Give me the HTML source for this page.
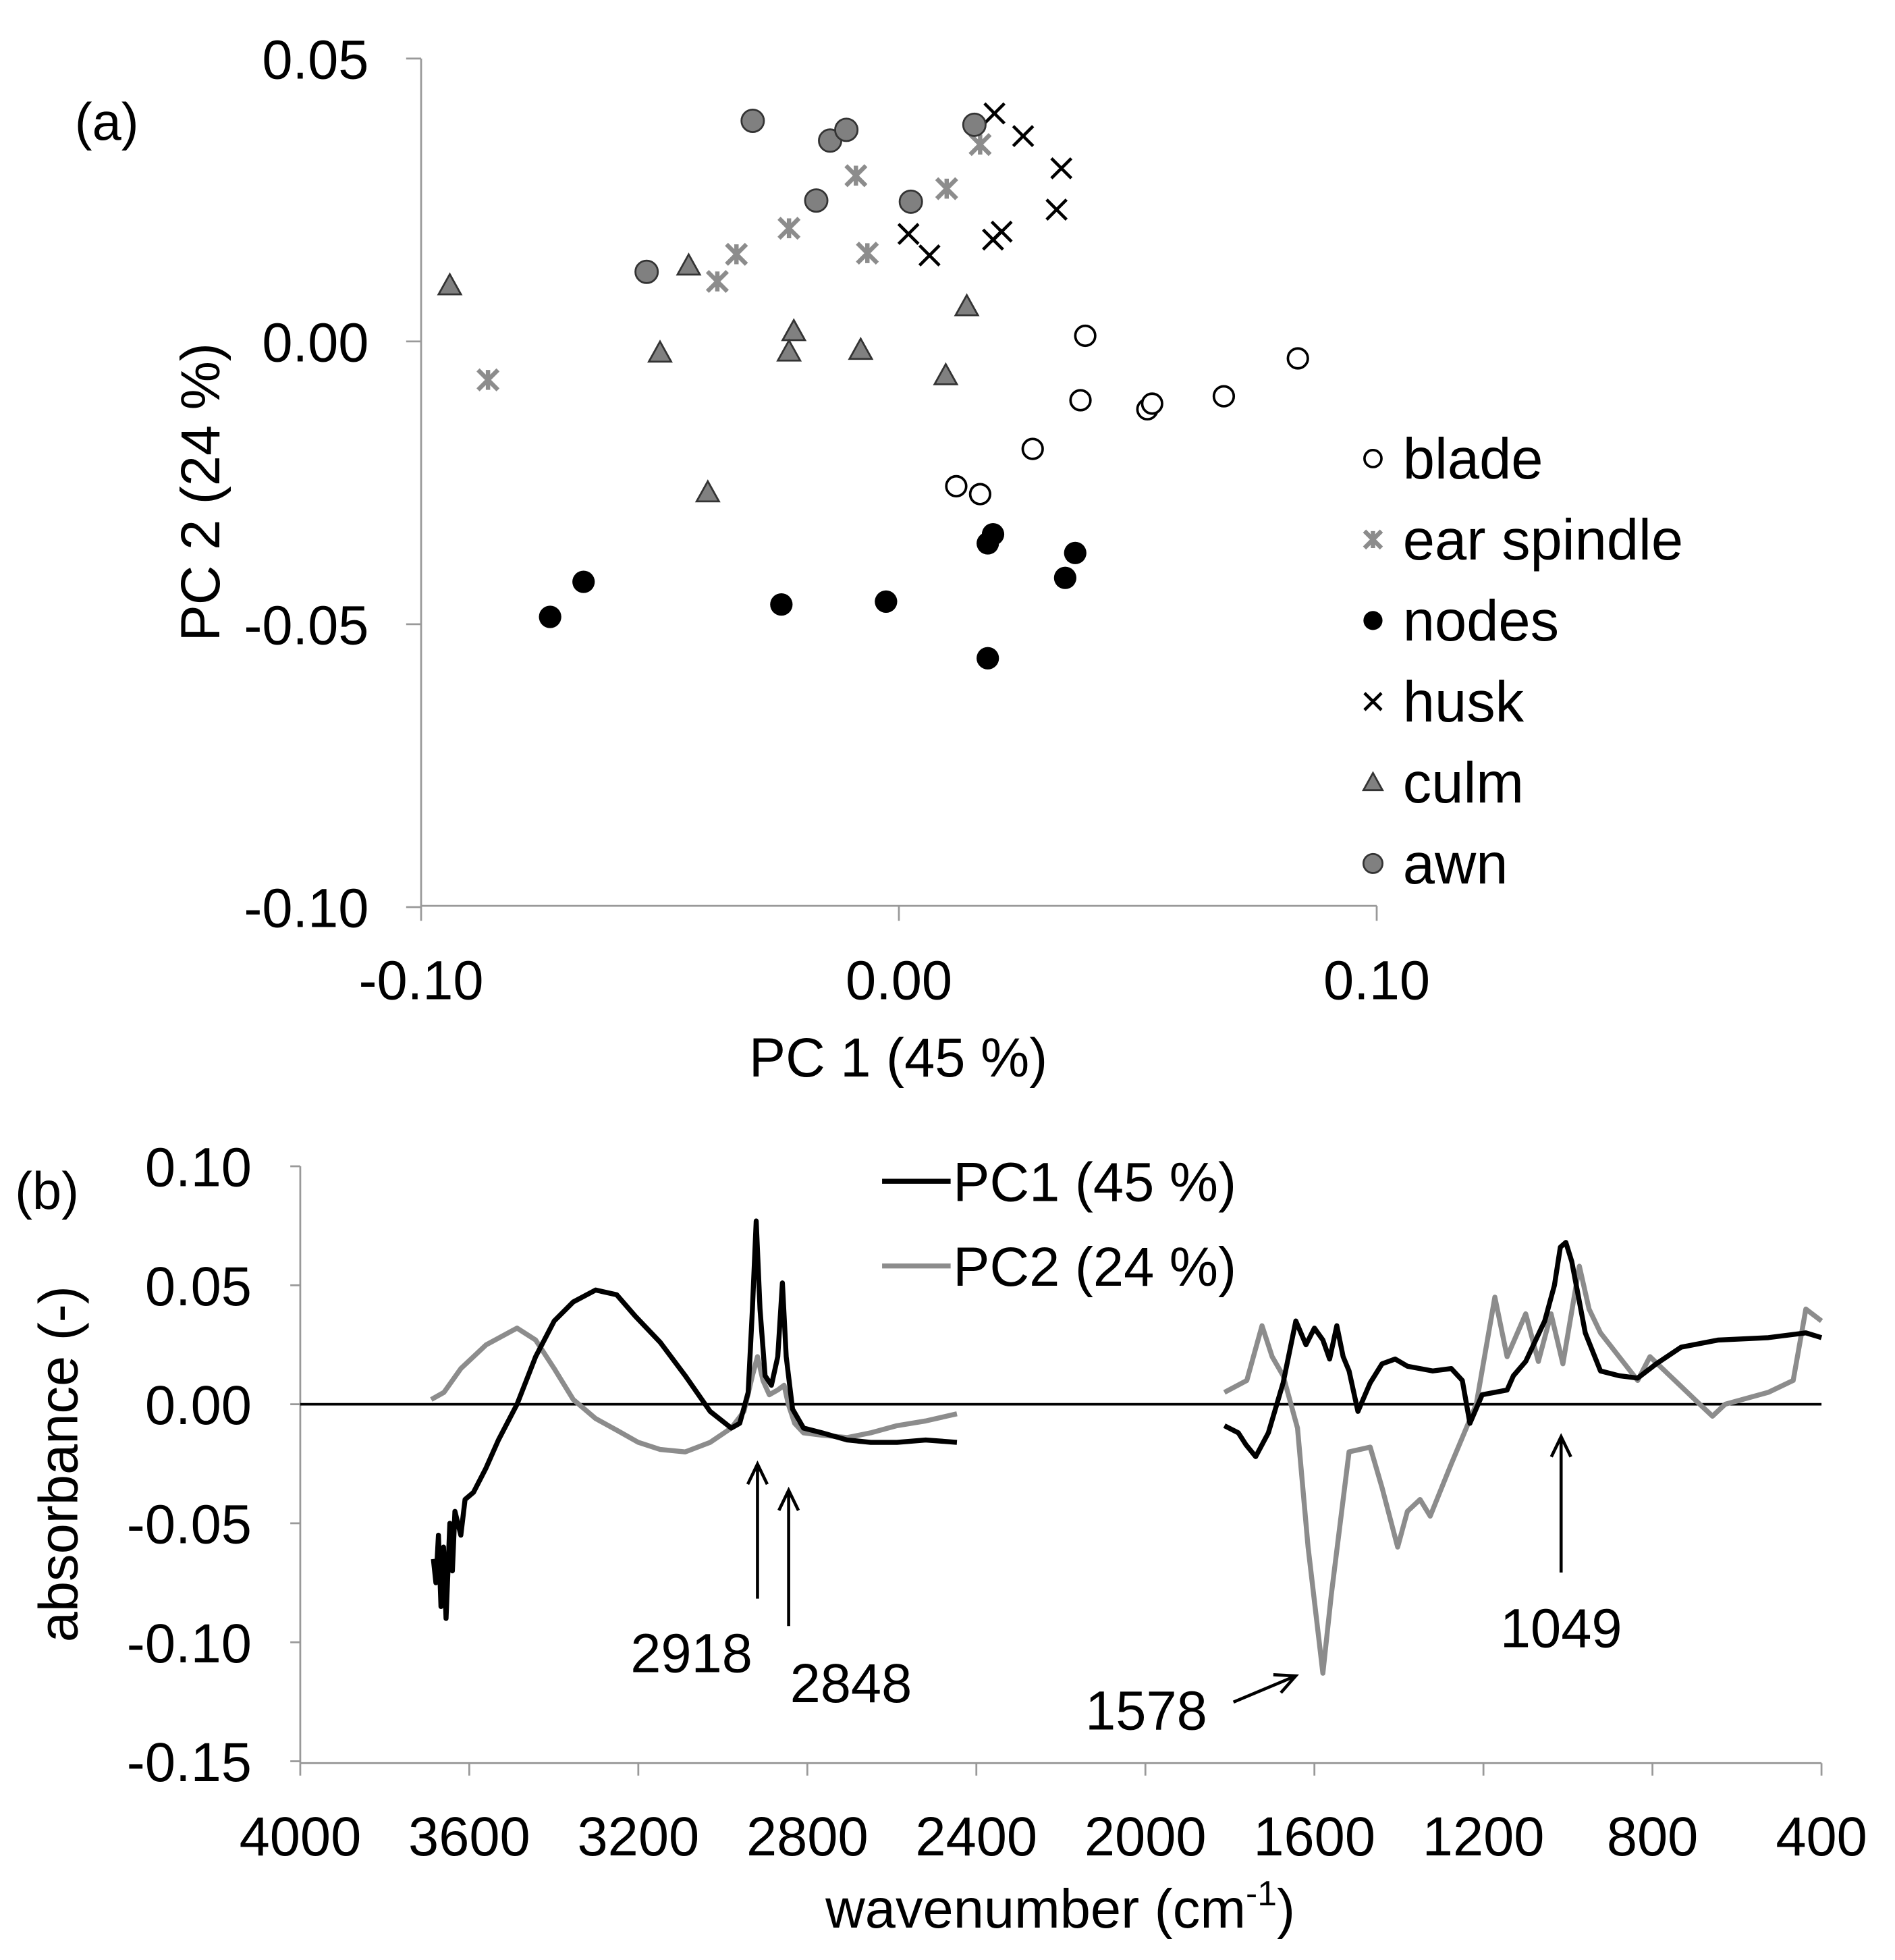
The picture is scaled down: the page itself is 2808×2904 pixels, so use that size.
<!DOCTYPE html>
<html><head><meta charset="utf-8"><title>PCA scores and loadings</title>
<style>
html,body{margin:0;padding:0;background:#fff;}
svg{display:block;}
text{font-family:"Liberation Sans",sans-serif;fill:#000;}
</style></head>
<body>
<svg id="fig" xmlns="http://www.w3.org/2000/svg" width="2808" height="2904" viewBox="0 0 1521 1573" preserveAspectRatio="none">
<g id="chartA"></g>
<g id="chartB"></g>
</svg>
<script>
// ---------- (a) score plot data ----------
const seriesNames = ["blade","ear spindle","nodes","husk","culm","awn"];
const bladeX = [0.039,0.038,0.052,0.053,0.068,0.0835,0.028,0.012,0.017];
const bladeY = [0.001,-0.0104,-0.012,-0.011,-0.0097,-0.003,-0.019,-0.0256,-0.027];
const earX = [-0.086,-0.038,-0.034,-0.023,-0.009,-0.0066,0.010,0.017];
const earY = [-0.0068,0.0106,0.0154,0.020,0.0293,0.0156,0.027,0.0348];
const nodesX = [-0.073,-0.066,-0.0246,-0.0027,0.0197,0.0186,0.0369,0.0348,0.0186];
const nodesY = [-0.0487,-0.0425,-0.0465,-0.046,-0.0341,-0.0357,-0.0374,-0.0418,-0.056];
const huskX = [0.020,0.026,0.034,0.033,0.002,0.0064,0.0197,0.0215];
const huskY = [0.0403,0.0363,0.0306,0.0233,0.019,0.0152,0.018,0.0194];
const culmX = [-0.094,-0.044,-0.050,-0.022,-0.023,-0.008,0.0098,0.0142,-0.040];
const culmY = [0.0099,0.0134,-0.002,0.0018,-0.0018,-0.0015,-0.006,0.0062,-0.0267];
const awnX = [-0.0306,-0.0144,-0.011,-0.0173,0.0025,0.0158,-0.0528];
const awnY = [0.039,0.0355,0.0374,0.0249,0.0247,0.0383,0.0123];
const aXTicks = [-0.10,0.00,0.10];
const aXTickLabels = ["-0.10","0.00","0.10"];
const aYTicks = [0.05,0.00,-0.05,-0.10];
const aYTickLabels = ["0.05","0.00","-0.05","-0.10"];

// ---------- (b) loadings data ----------
const pc1Wn1 = [3685,3679,3673,3667,3661,3655,3646,3640,3634,3620,3610,3590,3561,3531,3487,3443,3399,3354,3301,3251,3207,3148,3089,3030,2980,2960,2940,2930,2921,2912,2900,2885,2870,2859,2850,2835,2809,2765,2706,2650,2588,2520,2446];
const pc1Ab1 = [-0.065,-0.075,-0.055,-0.085,-0.06,-0.09,-0.05,-0.07,-0.045,-0.055,-0.04,-0.037,-0.027,-0.015,0.0,0.02,0.035,0.043,0.048,0.046,0.037,0.026,0.012,-0.003,-0.01,-0.008,0.005,0.04,0.077,0.04,0.012,0.008,0.02,0.051,0.02,-0.002,-0.01,-0.012,-0.015,-0.016,-0.016,-0.015,-0.016];
const pc2Wn1 = [3690,3660,3620,3560,3487,3443,3399,3354,3301,3250,3200,3148,3089,3030,2980,2950,2930,2918,2905,2890,2870,2855,2845,2830,2809,2765,2706,2650,2588,2520,2446];
const pc2Ab1 = [0.002,0.005,0.015,0.025,0.032,0.027,0.015,0.002,-0.006,-0.011,-0.016,-0.019,-0.02,-0.016,-0.01,-0.003,0.012,0.02,0.01,0.004,0.006,0.008,0.0,-0.008,-0.012,-0.013,-0.014,-0.012,-0.009,-0.007,-0.004];
const pc1Wn2 = [1813,1780,1762,1739,1709,1674,1644,1620,1600,1580,1564,1547,1532,1518,1497,1468,1440,1409,1380,1320,1276,1250,1232,1203,1144,1129,1100,1055,1032,1018,1005,991,959,923,879,835,791,732,644,526,437,400];
const pc1Ab2 = [-0.009,-0.012,-0.017,-0.022,-0.012,0.009,0.035,0.025,0.032,0.027,0.019,0.033,0.02,0.014,-0.003,0.009,0.017,0.019,0.016,0.014,0.015,0.01,-0.008,0.004,0.006,0.012,0.018,0.035,0.05,0.066,0.068,0.06,0.03,0.014,0.012,0.011,0.017,0.024,0.027,0.028,0.030,0.028];
const pc2Wn2 = [1813,1760,1724,1700,1674,1640,1615,1580,1560,1518,1468,1440,1403,1380,1350,1326,1276,1217,1173,1144,1100,1070,1040,1012,973,950,923,879,835,806,747,688,658,628,526,467,437,400];
const pc2Ab2 = [0.005,0.01,0.033,0.02,0.012,-0.01,-0.06,-0.113,-0.08,-0.02,-0.018,-0.035,-0.06,-0.045,-0.04,-0.047,-0.025,0.0,0.045,0.02,0.038,0.018,0.038,0.017,0.058,0.04,0.03,0.02,0.01,0.02,0.01,0.0,-0.005,0.0,0.005,0.01,0.04,0.035];
const bXTicks = [4000,3600,3200,2800,2400,2000,1600,1200,800,400];
const bXTickLabels = ["4000","3600","3200","2800","2400","2000","1600","1200","800","400"];
const bYTicks = [0.10,0.05,0.00,-0.05,-0.10,-0.15];
const bYTickLabels = ["0.10","0.05","0.00","-0.05","-0.10","-0.15"];

const NS = "http://www.w3.org/2000/svg";
function mk(parent, tag, attrs, txt){
  const e = document.createElementNS(NS, tag);
  for (const k in attrs) e.setAttribute(k, attrs[k]);
  if (txt !== undefined) e.textContent = txt;
  parent.appendChild(e);
  return e;
}

// ---------- chart A ----------
const A = document.getElementById('chartA');
const ax = v => 721.5 + v * 3835;
const ay = v => 274 - v * 4540;
let e;
e = mk(A,'line',{x1:338,y1:47,x2:338,y2:727,stroke:'#999','stroke-width':1.5});
 
e = mk(A,'line',{x1:338,y1:727,x2:1105,y2:727,stroke:'#999','stroke-width':1.5});
 
aYTicks.forEach((t,i)=>{
  mk(A,'line',{x1:326,y1:ay(t),x2:338,y2:ay(t),stroke:'#999','stroke-width':1.5});
  e = mk(A,'text',{x:296,y:ay(t)+16,'text-anchor':'end','font-size':44},aYTickLabels[i]);
   
});
aXTicks.forEach((t,i)=>{
  mk(A,'line',{x1:ax(t),y1:727,x2:ax(t),y2:739,stroke:'#999','stroke-width':1.5});
  e = mk(A,'text',{x:ax(t),y:802,'text-anchor':'middle','font-size':44},aXTickLabels[i]);
   
});
e = mk(A,'text',{x:721,y:864,'text-anchor':'middle','font-size':44},'PC 1 (45 %)');
 
e = mk(A,'text',{x:0,y:0,'text-anchor':'middle','font-size':44,transform:'translate(176,395) rotate(-90)'},'PC 2 (24 %)');
 
e = mk(A,'text',{x:60,y:112,'font-size':42},'(a)');
 

function marker(g, type, cx, cy, s){
  if (type==='blade') return mk(g,'circle',{cx:cx,cy:cy,r:8*s,fill:'#fff',stroke:'#000','stroke-width':2});
  if (type==='nodes') return mk(g,'circle',{cx:cx,cy:cy,r:9*s,fill:'#000'});
  if (type==='awn') return mk(g,'circle',{cx:cx,cy:cy,r:9*s,fill:'#808080',stroke:'#333','stroke-width':1.5});
  if (type==='culm'){ const d=9*s; return mk(g,'polygon',{points:`${cx},${cy-d} ${cx-d},${cy+d*0.8} ${cx+d},${cy+d*0.8}`,fill:'#808080',stroke:'#333','stroke-width':1.5}); }
  if (type==='husk'){ const d=8*s; return mk(g,'path',{d:`M${cx-d},${cy-d}L${cx+d},${cy+d}M${cx-d},${cy+d}L${cx+d},${cy-d}`,stroke:'#000','stroke-width':2.5,fill:'none'}); }
  if (type==='ear'){ const d=8*s; return mk(g,'path',{d:`M${cx-d},${cy-d}L${cx+d},${cy+d}M${cx-d},${cy+d}L${cx+d},${cy-d}M${cx},${cy-d}L${cx},${cy+d}`,stroke:'#8c8c8c','stroke-width':3.5,fill:'none'}); }
}
const groups = [['blade',bladeX,bladeY],['ear',earX,earY],['nodes',nodesX,nodesY],['husk',huskX,huskY],['culm',culmX,culmY],['awn',awnX,awnY]];
groups.forEach(([type,xs,ys])=>{
  const g = mk(A,'g',{});
  
  
  xs.forEach((x,i)=>{
    const m = marker(g,type,ax(x),ay(ys[i]),1);
    
    
  });
});
const legTypes = ['blade','ear','nodes','husk','culm','awn'];
legTypes.forEach((t,i)=>{
  const y = 368 + i*65;
  const g = mk(A,'g',{});
  
  
  marker(g,t,1102,y,0.85);
  mk(g,'text',{x:1126,y:y+16,'font-size':46},seriesNames[i]);
});

// ---------- chart B ----------
const B = document.getElementById('chartB');
const bx = w => 241 + (4000 - w) * 1221 / 3600;
const by = v => 1127 - v * 1910;
e = mk(B,'line',{x1:241,y1:936,x2:241,y2:1415,stroke:'#999','stroke-width':1.5});
 
e = mk(B,'line',{x1:241,y1:1415,x2:1462,y2:1415,stroke:'#999','stroke-width':1.5});
 
bYTicks.forEach((t,i)=>{
  mk(B,'line',{x1:233,y1:by(t),x2:241,y2:by(t),stroke:'#999','stroke-width':1.5});
  e = mk(B,'text',{x:202,y:by(t)+16,'text-anchor':'end','font-size':44},bYTickLabels[i]);
   
});
bXTicks.forEach((t,i)=>{
  mk(B,'line',{x1:bx(t),y1:1415,x2:bx(t),y2:1425,stroke:'#999','stroke-width':1.5});
  e = mk(B,'text',{x:bx(t),y:1489,'text-anchor':'middle','font-size':44},bXTickLabels[i]);
   
});
e = mk(B,'line',{x1:241,y1:by(0),x2:1462,y2:by(0),stroke:'#000','stroke-width':2});
 
function poly(ws, vs, color, name){
  const p = mk(B,'polyline',{points:ws.map((w,i)=>bx(w)+','+by(vs[i])).join(' '),fill:'none',stroke:color,'stroke-width':4,'stroke-linejoin':'round'});
  
  
}
poly(pc2Wn1,pc2Ab1,'#8c8c8c','pc2-line-high');
poly(pc2Wn2,pc2Ab2,'#8c8c8c','pc2-line-low');
poly(pc1Wn1,pc1Ab1,'#000','pc1-line-high');
poly(pc1Wn2,pc1Ab2,'#000','pc1-line-low');

// legend b
e = mk(B,'g',{});  
mk(e,'line',{x1:708,y1:948,x2:763,y2:948,stroke:'#000','stroke-width':4});
mk(e,'text',{x:765,y:964,'font-size':44},'PC1 (45 %)');
e = mk(B,'g',{});  
mk(e,'line',{x1:708,y1:1016,x2:763,y2:1016,stroke:'#8c8c8c','stroke-width':4});
mk(e,'text',{x:765,y:1032,'font-size':44},'PC2 (24 %)');

// annotations
function arrow(x1,y1,x2,y2,name){
  const g = mk(B,'g',{});
  
  
  mk(g,'line',{x1:x1,y1:y1,x2:x2,y2:y2,stroke:'#000','stroke-width':2.5});
  const a = Math.atan2(y2-y1,x2-x1), L=18, s=0.45;
  mk(g,'path',{d:`M${x2-L*Math.cos(a-s)},${y2-L*Math.sin(a-s)}L${x2},${y2}L${x2-L*Math.cos(a+s)},${y2-L*Math.sin(a+s)}`,stroke:'#000','stroke-width':2.5,fill:'none'});
}
arrow(608,1283,608,1175,'arrow-2918');
arrow(633,1305,633,1196,'arrow-2848');
arrow(990,1366,1040,1345,'arrow-1578');
arrow(1253,1262,1253,1153,'arrow-1049');
[['2918',555,1342],['2848',683,1366],['1578',920,1388],['1049',1253,1322]].forEach(([t,x,y])=>{
  const el = mk(B,'text',{x:x,y:y,'text-anchor':'middle','font-size':44},t);
  
  
});
e = mk(B,'text',{x:12,y:970,'font-size':42},'(b)');
 
e = mk(B,'text',{x:0,y:0,'text-anchor':'middle','font-size':44,transform:'translate(62,1175) rotate(-90)'},'absorbance (-)');
 
e = mk(B,'text',{x:851,y:1547,'text-anchor':'middle','font-size':44},'wavenumber (cm');
 
mk(e,'tspan',{'font-size':28,dy:-18},'-1');
mk(e,'tspan',{'font-size':44,dy:18},')');
</script>
</body></html>
